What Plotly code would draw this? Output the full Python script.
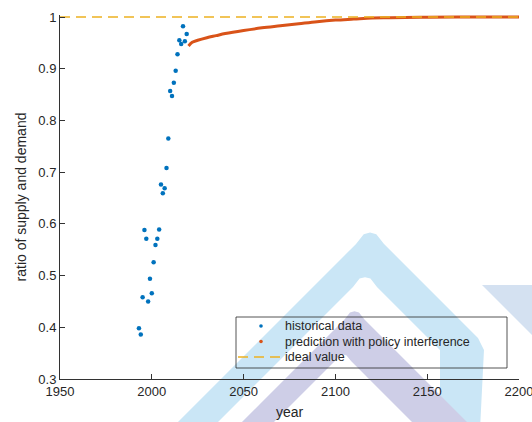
import plotly.graph_objects as go

# Historical supply/demand ratio
hist_year = [1993, 1994, 1995, 1996, 1997, 1998, 1999, 2000, 2001, 2002, 2003, 2004, 2005,
             2006, 2007, 2008, 2009, 2010, 2011, 2012, 2013, 2014, 2015, 2016, 2017, 2018, 2019]
hist_ratio = [0.398, 0.386, 0.458, 0.588, 0.571, 0.450, 0.494, 0.466, 0.526, 0.559, 0.571, 0.589, 0.676,
              0.659, 0.669, 0.708, 0.765, 0.857, 0.847, 0.873, 0.896, 0.928, 0.955, 0.948, 0.982, 0.953, 0.967]

# Predicted ratio with policy interference
pred_year = [2020, 2022, 2025, 2030, 2035, 2040, 2050, 2060, 2070, 2080, 2090, 2100,
             2110, 2120, 2130, 2150, 2175, 2200]
pred_ratio = [0.944, 0.951, 0.955, 0.960, 0.964, 0.968, 0.974, 0.979, 0.983, 0.987, 0.991, 0.994,
              0.996, 0.998, 0.9985, 0.9995, 1.0, 1.0]

# Ideal value line
ideal_year = [1950, 2200]
ideal_ratio = [1, 1]

x_ticks = [1950, 2000, 2050, 2100, 2150, 2200]
y_ticks = [0.3, 0.4, 0.5, 0.6, 0.7, 0.8, 0.9, 1.0]

legend_labels = ["historical data", "prediction with policy interference", "ideal value"]

BLUE, ORANGE, YELLOW = "#0072BD", "#D95319", "#EDB120"

W, H = 532, 422
ML, MR, MT, MB = 60, 13, 15, 43
PW, PH = W - ML - MR, H - MT - MB
Y_PX_PER_UNIT = 362 / 0.7          # 0.3 -> 1.0 spans 362 px
Y_TOP = 0.3 + PH / Y_PX_PER_UNIT   # a little headroom so the y=1 line is not clipped


def px(x):
    return (x - ML) / PW


def py(y):
    return (H - MB - y) / PH


def poly(points):
    return "M " + " L ".join(f"{px(x):.4f},{py(y):.4f}" for x, y in points) + " Z"


def rounded_apex(ax, ay, r):
    return [(ax - r, ay + r), (ax - r * 0.45, ay + r * 0.3), (ax, ay + r * 0.18),
            (ax + r * 0.45, ay + r * 0.3), (ax + r, ay + r)]


def chevron(s, d, right_pts, r, ymax=470):
    # left edge on x+y=s, right edge on x-y=d, apex rounded
    ax, ay = (s + d) / 2, (s - d) / 2
    return poly([(s - ymax, ymax)] + rounded_apex(ax, ay, r) + right_pts)


fig = go.Figure()

fig.add_trace(go.Scatter(
    x=hist_year, y=hist_ratio, mode="markers", name=legend_labels[0],
    marker=dict(color=BLUE, size=4.5)))

fig.add_trace(go.Scatter(
    x=pred_year, y=pred_ratio, mode="lines", name=legend_labels[1],
    line=dict(color=ORANGE, width=3, shape="spline")))

fig.add_trace(go.Scatter(
    x=ideal_year, y=ideal_ratio, mode="lines", name=legend_labels[2],
    line=dict(color=YELLOW, width=1.5, dash="10px,6px")))

# Background logo
logo = [
    (chevron(600, 140, [(478, 338), (484, 350), (478, 470)], 14), "rgb(202,230,246)"),
    (chevron(640, 90, [(440, 350), (440, 470)], 12), "white"),
    (chevron(664, 45, [(470, 425), (470, 470)], 10), "rgb(206,206,231)"),
    (chevron(696, -10, [(430, 440), (430, 470)], 8), "white"),
    (poly([(482, 285), (620, 285), (620, 423)]), "rgb(212,225,241)"),
]
shapes = [dict(type="path", path=p, fillcolor=c, line_width=0,
               xref="paper", yref="paper", layer="below") for p, c in logo]

# Legend: frame, symbols and labels
LEG_L, LEG_R, LEG_T, LEG_B = 236, 507, 317, 368
ROW_Y = [326, 341.5, 357]
SYM_X, TEXT_X = 261, 283
shapes.append(dict(type="rect", xref="paper", yref="paper", layer="above",
                   x0=px(LEG_L), x1=px(LEG_R), y0=py(LEG_B), y1=py(LEG_T),
                   line=dict(color="rgb(40,40,40)", width=0.8), fillcolor="rgba(0,0,0,0)"))
for yy, col in zip(ROW_Y[:2], [BLUE, ORANGE]):
    r = 1.8
    shapes.append(dict(type="circle", xref="paper", yref="paper", layer="above",
                       x0=px(SYM_X - r), x1=px(SYM_X + r), y0=py(yy + r), y1=py(yy - r),
                       fillcolor=col, line_width=0))
shapes.append(dict(type="line", xref="paper", yref="paper", layer="above",
                   x0=px(238), x1=px(281), y0=py(ROW_Y[2]), y1=py(ROW_Y[2]),
                   line=dict(color=YELLOW, width=1.5, dash="10px,6px")))

annotations = [dict(text=lab, xref="paper", yref="paper", x=px(TEXT_X), y=py(yy),
                    xanchor="left", yanchor="middle", showarrow=False,
                    font=dict(size=12.5, color="rgb(38,38,38)"))
               for lab, yy in zip(legend_labels, ROW_Y)]

axis_common = dict(
    showgrid=False, zeroline=False, showline=True, linecolor="rgb(50,50,50)", linewidth=1,
    ticks="inside", ticklen=5, tickcolor="rgb(50,50,50)", tickwidth=1,
    tickfont=dict(family="Liberation Sans, Arial, sans-serif", size=13, color="rgb(38,38,38)"),
    ticklabeloverflow="allow", automargin=False, mirror=False)

fig.update_layout(
    width=W, height=H,
    margin=dict(l=ML, r=MR, t=MT, b=MB, autoexpand=False),
    paper_bgcolor="white", plot_bgcolor="rgba(0,0,0,0)",
    font=dict(family="Liberation Sans, Arial, sans-serif", color="rgb(38,38,38)"),
    xaxis=dict(range=[1950, 2200], tickvals=x_ticks, **axis_common,
               title=dict(text="year", font=dict(size=14), standoff=9)),
    yaxis=dict(range=[0.3, Y_TOP], tickvals=y_ticks, ticktext=[f"{v:g}" for v in y_ticks], **axis_common,
               title=dict(text="ratio of supply and demand", font=dict(size=14), standoff=8)),
    shapes=shapes,
    annotations=annotations,
    showlegend=False,
)

fig.write_html("out.html")
